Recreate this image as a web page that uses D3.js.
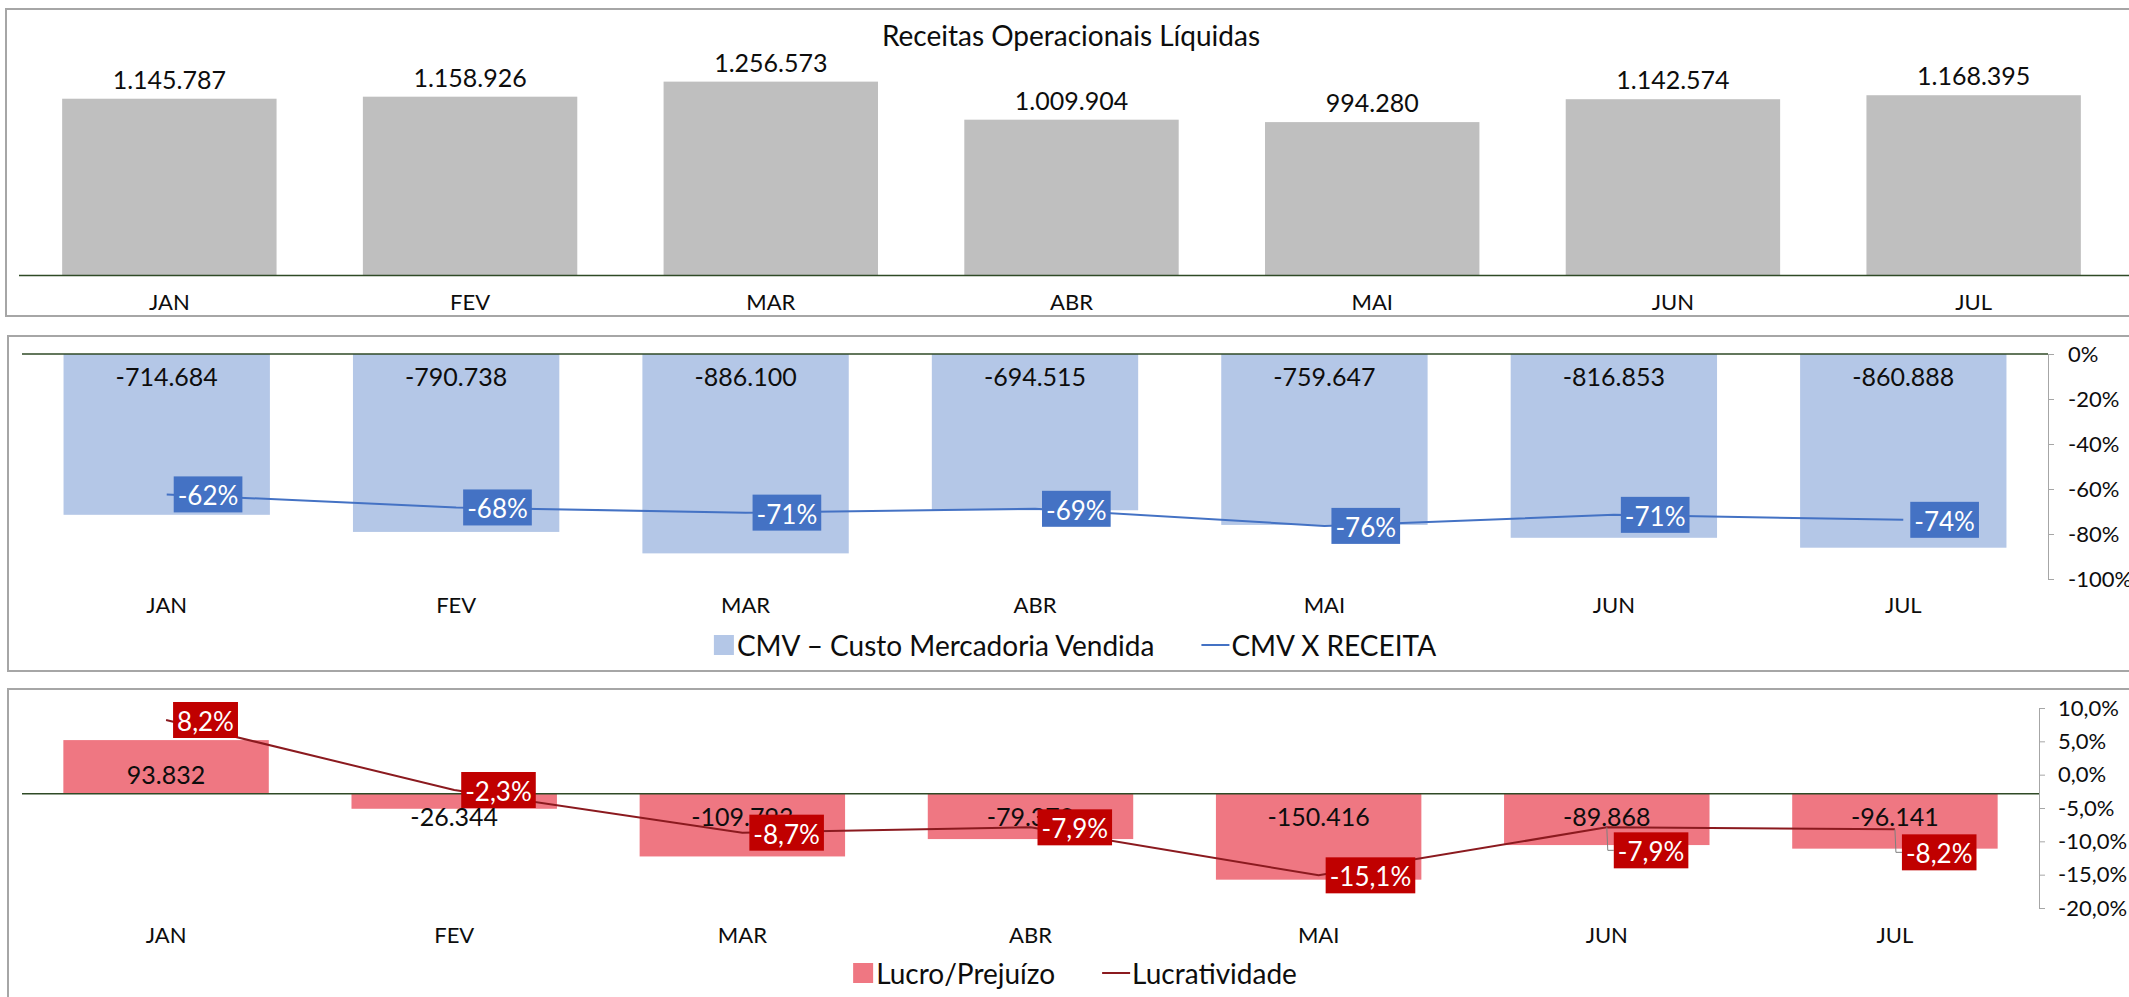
<!DOCTYPE html>
<html>
<head>
<meta charset="utf-8">
<script src="https://cdn.jsdelivr.net/npm/d3@7"></script>
<style>
  body { margin: 0; background: #fff; }
  svg { display: block; font-family: "Lato", "Liberation Sans", sans-serif; }
</style>
</head>
<body>
<svg id="chart" width="2129" height="997"></svg>
<script>
// dados
const months = ['JAN', 'FEV', 'MAR', 'ABR', 'MAI', 'JUN', 'JUL'];
const receita = [1145787, 1158926, 1256573, 1009904, 994280, 1142574, 1168395];
const cmv = [-714684, -790738, -886100, -694515, -759647, -816853, -860888];
const cmvXReceita = [-0.624, -0.682, -0.705, -0.688, -0.764, -0.7149, -0.737];
const lucro = [93832, -26344, -109793, -79379, -150416, -89868, -96141];
const lucratividade = [0.082, -0.023, -0.087, -0.079, -0.151, -0.079, -0.082];
const cmvPctTicks = [0, -0.2, -0.4, -0.6, -0.8, -1];
const lucroPctTicks = [0.1, 0.05, 0, -0.05, -0.1, -0.15, -0.2];

const br = d3.formatLocale({ decimal: ',', thousands: '.', grouping: [3], currency: ['R$', ''], minus: '-' });
const fmtNum = br.format(',d');
const fmtPct0 = br.format('.0%');
const fmtPct1 = br.format('.1%');

const svg = d3.select('#chart');
const ink = '#0d0d0d';
const axisGreen = '#2f4a26';
const font = '"Lato", "Liberation Sans", sans-serif';

// molduras dos três quadros
[[6, 9, 307], [8, 336, 335], [8, 689, 400]].forEach(([x, y, h]) => {
    svg.append('rect')
        .attr('x', x).attr('y', y).attr('width', 2150).attr('height', h)
        .attr('fill', '#fff').attr('stroke', '#a6a6a6').attr('stroke-width', 2);
});

function band(x0, x1) {
    return d3.scaleBand().domain(months).range([x0, x1]).paddingInner(0.287).paddingOuter(0.1435);
}

function monthAxis(x, y) {
    const g = svg.append('g')
        .attr('transform', `translate(0,${y})`)
        .call(d3.axisBottom(x).tickSize(0))
        .attr('font-family', font);
    g.select('.domain').remove();
    g.selectAll('text')
        .attr('y', 0).attr('dy', '0.36em')
        .attr('font-size', 22).attr('fill', ink);
}

// caixinha colorida com o percentual, à direita do ponto
function pctLabel(g, px, py, text, fill, dy) {
    const grp = g.append('g');
    const t = grp.append('text')
        .attr('font-size', 26).attr('fill', '#fff')
        .attr('dominant-baseline', 'central')
        .text(text);
    const w = t.node().getComputedTextLength() + 8;
    const left = px + 7;
    const cy = py + dy;
    grp.insert('rect', 'text')
        .attr('x', left).attr('y', cy - 18)
        .attr('width', w).attr('height', 36)
        .attr('fill', fill);
    t.attr('x', left + 4).attr('y', cy + 1);
    if (dy) {
        g.insert('path', () => grp.node())
            .attr('d', `M${px},${py}L${left - 6},${cy}H${left}`)
            .attr('fill', 'none').attr('stroke', '#7f7f7f').attr('stroke-width', 1);
    }
}

function legend(y, items) {
    const g = svg.append('g').attr('transform', `translate(0,${y})`);
    let x = 0;
    items.forEach((it, i) => {
        if (i > 0) x += 47;
        if (it.type === 'rect') {
            g.append('rect').attr('x', x).attr('y', -10).attr('width', 20).attr('height', 20).attr('fill', it.color);
            x += 23;
        } else {
            g.append('line').attr('x1', x).attr('x2', x + 28).attr('stroke', it.color).attr('stroke-width', 2);
            x += 30;
        }
        const t = g.append('text').attr('x', x).attr('dominant-baseline', 'central')
            .attr('font-size', 28).attr('fill', ink).text(it.label);
        x += t.node().getComputedTextLength();
    });
    g.attr('transform', `translate(${1075 - x / 2},${y})`);
}

// ---- quadro 1: Receitas Operacionais Líquidas
{
    const x = band(19, 2124);
    const y = d3.scaleLinear().domain([0, 1400000]).range([275.5, 59.5]);

    svg.append('text')
        .attr('x', 1071).attr('y', 35).attr('text-anchor', 'middle')
        .attr('dominant-baseline', 'central')
        .attr('font-size', 28).attr('fill', ink)
        .text('Receitas Operacionais Líquidas');

    svg.append('g').selectAll('rect').data(receita).join('rect')
        .attr('x', (d, i) => x(months[i]))
        .attr('width', x.bandwidth())
        .attr('y', d => y(d))
        .attr('height', d => y(0) - y(d))
        .attr('fill', '#bfbfbf');

    svg.append('g').selectAll('text').data(receita).join('text')
        .attr('x', (d, i) => x(months[i]) + x.bandwidth() / 2)
        .attr('y', d => y(d) - 20)
        .attr('text-anchor', 'middle').attr('dominant-baseline', 'central')
        .attr('font-size', 25).attr('fill', ink)
        .text(fmtNum);

    svg.append('line')
        .attr('x1', 19).attr('x2', 2129).attr('y1', y(0)).attr('y2', y(0))
        .attr('stroke', axisGreen).attr('stroke-width', 1.5);

    monthAxis(x, 302);
}

// ---- quadro 2: CMV
{
    const x = band(22, 2048);
    const y = d3.scaleLinear().domain([-1000000, 0]).range([579, 354]);
    const yp = d3.scaleLinear().domain([-1, 0]).range([579, 354]);
    const cx = i => x(months[i]) + x.bandwidth() / 2;

    svg.append('g').selectAll('rect').data(cmv).join('rect')
        .attr('x', (d, i) => x(months[i]))
        .attr('width', x.bandwidth())
        .attr('y', y(0))
        .attr('height', d => y(d) - y(0))
        .attr('fill', '#b4c7e7');

    svg.append('g').selectAll('text').data(cmv).join('text')
        .attr('x', (d, i) => cx(i))
        .attr('y', y(0) + 22)
        .attr('text-anchor', 'middle').attr('dominant-baseline', 'central')
        .attr('font-size', 25).attr('fill', ink)
        .text(fmtNum);

    svg.append('line')
        .attr('x1', 22).attr('x2', 2048).attr('y1', y(0)).attr('y2', y(0))
        .attr('stroke', axisGreen).attr('stroke-width', 1.5);

    const ax = svg.append('g')
        .attr('transform', 'translate(2048,0)')
        .call(d3.axisRight(yp).tickValues(cmvPctTicks).tickFormat(fmtPct0).tickSize(6).tickSizeOuter(6).tickPadding(14))
        .attr('font-family', font);
    ax.selectAll('path,line').attr('stroke', '#a6a6a6');
    ax.selectAll('text').attr('font-size', 22).attr('fill', ink);

    const line = d3.line().x((d, i) => cx(i)).y(d => yp(d));
    svg.append('path').datum(cmvXReceita)
        .attr('d', line).attr('fill', 'none')
        .attr('stroke', '#4472c4').attr('stroke-width', 2);

    const lg = svg.append('g');
    cmvXReceita.forEach((v, i) => pctLabel(lg, cx(i), yp(v), fmtPct0(v), '#4472c4', 0));

    monthAxis(x, 605);
    legend(645, [
        { type: 'rect', color: '#b4c7e7', label: 'CMV – Custo Mercadoria Vendida' },
        { type: 'line', color: '#4472c4', label: 'CMV X RECEITA' }
    ]);
}

// ---- quadro 3: Lucro / Prejuízo
{
    const x = band(22, 2039);
    const y = d3.scaleLinear().domain([-200000, 150000]).range([908, 708]);
    const yp = d3.scaleLinear().domain([-0.2, 0.1]).range([908, 708]);
    const cx = i => x(months[i]) + x.bandwidth() / 2;
    const nudged = new Set(['JUN', 'JUL']);   // rótulos que o Excel empurrou para baixo

    svg.append('g').selectAll('rect').data(lucro).join('rect')
        .attr('x', (d, i) => x(months[i]))
        .attr('width', x.bandwidth())
        .attr('y', d => Math.min(y(d), y(0)))
        .attr('height', d => Math.abs(y(d) - y(0)))
        .attr('fill', '#ef7782');

    svg.append('g').selectAll('text').data(lucro).join('text')
        .attr('x', (d, i) => cx(i))
        .attr('y', d => d >= 0 ? y(0) - 20 : y(0) + 22)
        .attr('text-anchor', 'middle').attr('dominant-baseline', 'central')
        .attr('font-size', 25).attr('fill', ink)
        .text(fmtNum);

    svg.append('line')
        .attr('x1', 22).attr('x2', 2039).attr('y1', y(0)).attr('y2', y(0))
        .attr('stroke', axisGreen).attr('stroke-width', 1.5);

    const ax = svg.append('g')
        .attr('transform', 'translate(2039,0)')
        .call(d3.axisRight(yp).tickValues(lucroPctTicks).tickFormat(fmtPct1).tickSize(6).tickSizeOuter(6).tickPadding(13))
        .attr('font-family', font);
    ax.selectAll('path,line').attr('stroke', '#a6a6a6');
    ax.selectAll('text').attr('font-size', 22).attr('fill', ink);

    const line = d3.line().x((d, i) => cx(i)).y(d => yp(d));
    svg.append('path').datum(lucratividade)
        .attr('d', line).attr('fill', 'none')
        .attr('stroke', '#8b1a1f').attr('stroke-width', 2);

    const lg = svg.append('g');
    lucratividade.forEach((v, i) =>
        pctLabel(lg, cx(i), yp(v), fmtPct1(v), '#c00000', nudged.has(months[i]) ? 23 : 0));

    monthAxis(x, 935);
    legend(973, [
        { type: 'rect', color: '#ef7782', label: 'Lucro/Prejuízo' },
        { type: 'line', color: '#8b1a1f', label: 'Lucratividade' }
    ]);
}
</script>
</body>
</html>
